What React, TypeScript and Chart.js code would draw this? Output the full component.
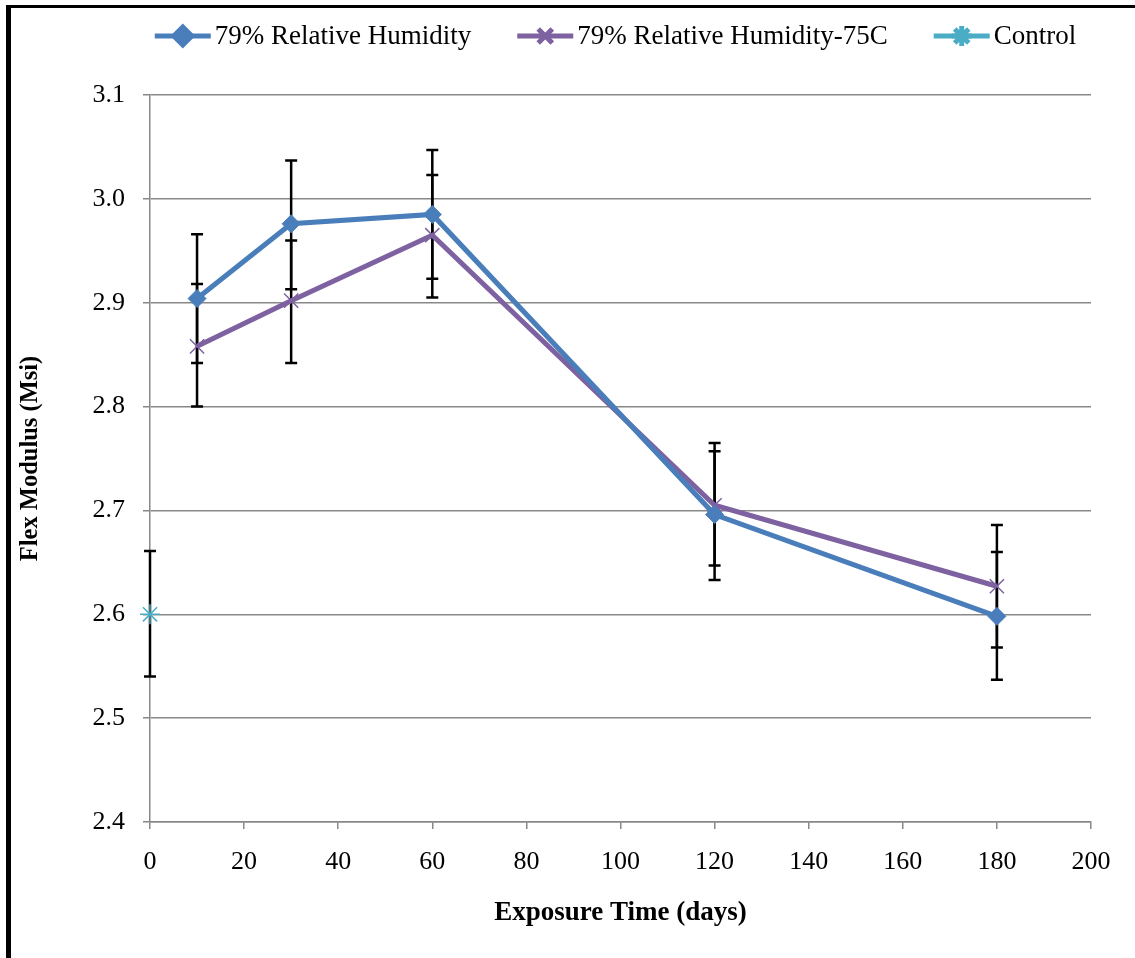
import { useEffect, useRef } from 'react';
import { Chart, registerables } from 'chart.js';
import { drawPoint } from 'chart.js/helpers';

Chart.register(...registerables);

// ---- data ----
const xDays = [10, 30, 60, 120, 180];
const rhValues = [2.904, 2.976, 2.985, 2.696, 2.598];
const rhLow = [2.842, 2.913, 2.923, 2.633, 2.537];
const rhHigh = [2.966, 3.037, 3.047, 2.757, 2.66];
const rh75Values = [2.858, 2.902, 2.965, 2.705, 2.627];
const rh75Low = [2.8, 2.842, 2.905, 2.647, 2.568];
const rh75High = [2.918, 2.96, 3.023, 2.765, 2.686];
const controlX = [0];
const controlValues = [2.6];
const controlLow = [2.54];
const controlHigh = [2.661];
const seriesLabels = ['79% Relative Humidity', '79% Relative Humidity-75C', 'Control'];
const xTickValues = [0, 20, 40, 60, 80, 100, 120, 140, 160, 180, 200];
const yTickValues = [2.4, 2.5, 2.6, 2.7, 2.8, 2.9, 3.0, 3.1];
const xTitle = 'Exposure Time (days)';
const yTitle = 'Flex Modulus (Msi)';

const BLUE = '#4A7EBB';
const PURPLE = '#7E61A0';
const CYAN = '#4BACC6';
const FONT = "'Liberation Serif', 'Times New Roman', serif";

const errorSets = [
  { xs: controlX, low: controlLow, high: controlHigh },
  { xs: xDays, low: rhLow, high: rhHigh },
  { xs: xDays, low: rh75Low, high: rh75High },
];

const errorBarPlugin = {
  id: 'errorBars',
  beforeDatasetsDraw(chart: any) {
    const { ctx, scales } = chart;
    const x = scales.x;
    const y = scales.y;
    ctx.save();
    ctx.strokeStyle = '#000';
    ctx.lineWidth = 2.5;
    errorSets.forEach(({ xs, low, high }) => {
      xs.forEach((xv, i) => {
        const px = x.getPixelForValue(xv);
        const y1 = y.getPixelForValue(low[i]);
        const y2 = y.getPixelForValue(high[i]);
        ctx.beginPath();
        ctx.moveTo(px, y1);
        ctx.lineTo(px, y2);
        ctx.moveTo(px - 6, y1);
        ctx.lineTo(px + 6, y1);
        ctx.moveTo(px - 6, y2);
        ctx.lineTo(px + 6, y2);
        ctx.stroke();
      });
    });
    ctx.restore();
  },
};

const legendPlugin = {
  id: 'excelLegend',
  afterDraw(chart: any) {
    const { ctx } = chart;
    const datasets = chart.data.datasets;
    const lineLen = 56;
    const gapText = 4;
    const gapItem = 46;
    const cy = 36;
    ctx.save();
    ctx.font = `27px ${FONT}`;
    const widths = datasets.map((d: any) => ctx.measureText(d.label).width);
    const total =
      widths.reduce((a: number, b: number) => a + b, 0) +
      datasets.length * (lineLen + gapText) +
      (datasets.length - 1) * gapItem;
    let x = 615.5 - total / 2;
    datasets.forEach((d: any, i: number) => {
      const color = d.borderColor;
      ctx.strokeStyle = color;
      ctx.lineWidth = 5;
      ctx.lineCap = 'butt';
      ctx.beginPath();
      ctx.moveTo(x, cy);
      ctx.lineTo(x + lineLen, cy);
      ctx.stroke();
      ctx.fillStyle = d.pointBackgroundColor || color;
      ctx.strokeStyle = d.pointBorderColor || color;
      drawPoint(
        ctx,
        { pointStyle: d.pointStyle, radius: d.pointRadius, rotation: 0, borderWidth: d.pointBorderWidth },
        x + lineLen / 2,
        cy
      );
      ctx.fillStyle = '#000';
      ctx.textAlign = 'left';
      ctx.textBaseline = 'middle';
      ctx.fillText(d.label, x + lineLen + gapText, cy + 1);
      x += lineLen + gapText + widths[i] + gapItem;
    });
    ctx.restore();
  },
};

export default function App() {
  const ref = useRef<HTMLCanvasElement>(null);
  useEffect(() => {
    const canvas = ref.current!;
    const chart = new Chart(canvas, {
      type: 'scatter',
      data: {
        datasets: [
          {
            label: seriesLabels[0],
            data: xDays.map((x, i) => ({ x, y: rhValues[i] })),
            showLine: true,
            borderColor: BLUE,
            backgroundColor: BLUE,
            borderWidth: 5,
            pointStyle: 'rectRot',
            pointRadius: 9,
            pointBorderWidth: 1,
            pointBackgroundColor: BLUE,
            pointBorderColor: BLUE,
            clip: false,
          } as any,
          {
            label: seriesLabels[1],
            data: xDays.map((x, i) => ({ x, y: rh75Values[i] })),
            showLine: true,
            borderColor: PURPLE,
            backgroundColor: PURPLE,
            borderWidth: 5,
            pointStyle: 'crossRot',
            pointRadius: 10,
            pointBorderWidth: 1.5,
            pointBackgroundColor: PURPLE,
            pointBorderColor: PURPLE,
            clip: false,
          } as any,
          {
            label: seriesLabels[2],
            data: controlX.map((x, i) => ({ x, y: controlValues[i] })),
            showLine: false,
            borderColor: CYAN,
            backgroundColor: CYAN,
            borderWidth: 5,
            pointStyle: 'star',
            pointRadius: 10,
            pointBorderWidth: 1.5,
            pointBackgroundColor: CYAN,
            pointBorderColor: CYAN,
            clip: false,
          } as any,
        ],
      },
      options: {
        responsive: false,
        animation: false,
        devicePixelRatio: 1,
        layout: { padding: { top: 95, left: 12, right: 44, bottom: 0 } },
        plugins: {
          legend: { display: false },
          tooltip: { enabled: false },
        },
        scales: {
          x: {
            type: 'linear',
            min: 0,
            max: 200,
            afterBuildTicks: (s: any) => {
              s.ticks = xTickValues.map((v) => ({ value: v }));
            },
            afterFit: (s: any) => {
              s.height = 136;
            },
            ticks: {
              color: '#000',
              font: { family: FONT, size: 26 },
              padding: 18,
              maxRotation: 0,
              callback: (v: any) => String(v),
            },
            grid: {
              display: true,
              drawOnChartArea: false,
              drawTicks: true,
              tickLength: 7,
              color: '#888',
              lineWidth: 1.5,
            },
            border: { display: true, color: '#888', width: 1.5 },
            title: {
              display: true,
              text: xTitle,
              color: '#000',
              font: { family: FONT, size: 27, weight: 'bold' },
              padding: { top: 0, bottom: 29 },
            },
          },
          y: {
            type: 'linear',
            min: 2.4,
            max: 3.1,
            afterBuildTicks: (s: any) => {
              s.ticks = yTickValues.map((v) => ({ value: v }));
            },
            afterFit: (s: any) => {
              s.width = 138;
            },
            ticks: {
              color: '#000',
              font: { family: FONT, size: 26 },
              padding: 18,
              callback: (v: any) => Number(v).toFixed(1),
            },
            grid: {
              display: true,
              drawOnChartArea: true,
              drawTicks: true,
              tickLength: 7,
              color: '#888',
              lineWidth: 1.5,
            },
            border: { display: true, color: '#888', width: 1.5 },
            title: {
              display: true,
              text: yTitle,
              color: '#000',
              font: { family: FONT, size: 24.5, weight: 'bold' },
              padding: { top: 4, bottom: 0 },
            },
          },
        },
      },
      plugins: [errorBarPlugin, legendPlugin],
    });
    return () => chart.destroy();
  }, []);
  return (
    <div
      style={{
        position: 'fixed',
        left: 0,
        top: 0,
        width: 1135,
        height: 958,
        overflow: 'hidden',
        background: '#fff',
      }}
    >
      <canvas
        ref={ref}
        width={1135}
        height={958}
        style={{ position: 'absolute', left: 0, top: 0, width: 1135, height: 958 }}
      />
      <div
        style={{
          position: 'absolute',
          left: 6,
          top: 5,
          width: 2000,
          height: 2000,
          borderTop: '3px solid #000',
          borderLeft: '5px solid #000',
          pointerEvents: 'none',
        }}
      />
    </div>
  );
}
